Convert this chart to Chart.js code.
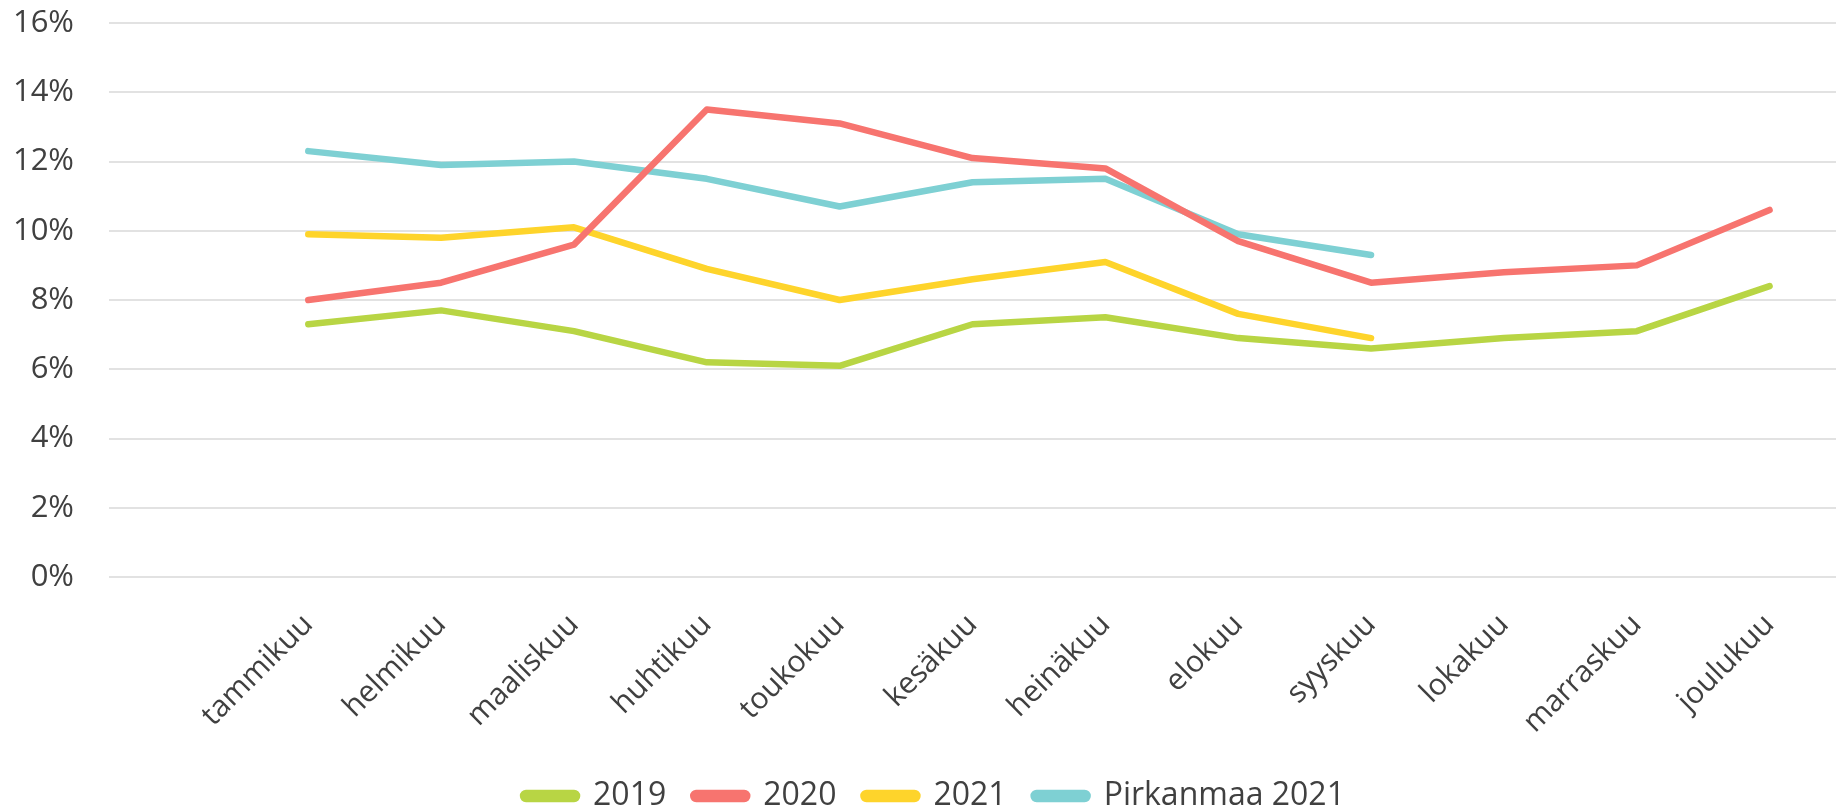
<!DOCTYPE html>
<html>
<head>
<meta charset="utf-8">
<script src="https://cdn.jsdelivr.net/npm/chart.js@4/dist/chart.umd.min.js"></script>
<style>
  html, body { margin: 0; padding: 0; background: #fff; }
  #wrap { width: 1842px; height: 809px; }
</style>
</head>
<body>
<div id="wrap"><canvas id="kaavio"></canvas></div>
<script>
// first category is empty in the original sheet
const kuukaudet = ["", "tammikuu", "helmikuu", "maaliskuu", "huhtikuu", "toukokuu", "kesäkuu",
  "heinäkuu", "elokuu", "syyskuu", "lokakuu", "marraskuu", "joulukuu"];
const arvot2019 = [null, 7.3, 7.7, 7.1, 6.2, 6.1, 7.3, 7.5, 6.9, 6.6, 6.9, 7.1, 8.4];
const arvot2020 = [null, 8.0, 8.5, 9.6, 13.5, 13.1, 12.1, 11.8, 9.7, 8.5, 8.8, 9.0, 10.6];
const arvot2021 = [null, 9.9, 9.8, 10.1, 8.9, 8.0, 8.6, 9.1, 7.6, 6.9, null, null, null];
const pirkanmaa2021 = [null, 12.3, 11.9, 12.0, 11.5, 10.7, 11.4, 11.5, 9.9, 9.3, null, null, null];
const yTicks = [0, 2, 4, 6, 8, 10, 12, 14, 16];

const tekstiVari = "#404040";

function sarja(nimi, data, vari) {
  return {
    label: nimi,
    data: data,
    borderColor: vari,
    backgroundColor: vari,
    borderWidth: 6.5,
    borderCapStyle: "round",
    borderJoinStyle: "round",
    pointRadius: 0,
    pointHoverRadius: 0,
    fill: false,
    tension: 0
  };
}

// drop the automatic label overhang so the plot area sits where the original one does
function nollaaReunat(s) {
  s.paddingTop = 0;
  s.paddingBottom = 0;
  s.paddingLeft = 0;
  s.paddingRight = 0;
}

// the legend in the original is a bit right of the canvas centre
const selitteenSiirto = {
  id: "selitteenSiirto",
  afterLayout(chart) {
    chart.legend.left += 16;
    chart.legend.right += 16;
  }
};

new Chart(document.getElementById("kaavio"), {
  type: "line",
  data: {
    labels: kuukaudet,
    datasets: [
      sarja("2019", arvot2019, "#B8D544"),
      sarja("2020", arvot2020, "#F7746F"),
      sarja("2021", arvot2021, "#FED42B"),
      sarja("Pirkanmaa 2021", pirkanmaa2021, "#7ED0D3")
    ]
  },
  plugins: [selitteenSiirto],
  options: {
    responsive: true,
    maintainAspectRatio: false,
    animation: false,
    layout: { padding: { top: 23, right: 6, left: 0, bottom: -13 } },
    plugins: {
      tooltip: { enabled: false },
      legend: {
        position: "bottom",
        labels: {
          color: tekstiVari,
          font: { family: "'Open Sans'", size: 32 },
          boxWidth: 54,
          boxHeight: 6,
          useBorderRadius: true,
          borderRadius: 3,
          padding: 27
        }
      }
    },
    scales: {
      x: {
        offset: true,
        grid: { display: false },
        border: { display: false },
        ticks: {
          color: tekstiVari,
          font: { family: "'Open Sans'", size: 30 },
          minRotation: 45,
          maxRotation: 45,
          autoSkip: false,
          padding: 22
        },
        afterFit: (s) => { s.height = 176; nollaaReunat(s); }
      },
      y: {
        min: 0,
        max: 16,
        afterBuildTicks: (s) => { s.ticks = yTicks.map(v => ({ value: v })); },
        grid: { color: "#E2E2E2", lineWidth: 2, drawTicks: false },
        border: { display: false },
        ticks: {
          color: tekstiVari,
          font: { family: "'Open Sans'", size: 31 },
          padding: 35,
          callback: (v) => v + "%"
        },
        afterFit: (s) => { s.width = 109; nollaaReunat(s); }
      }
    }
  }
});
</script>
</body>
</html>
